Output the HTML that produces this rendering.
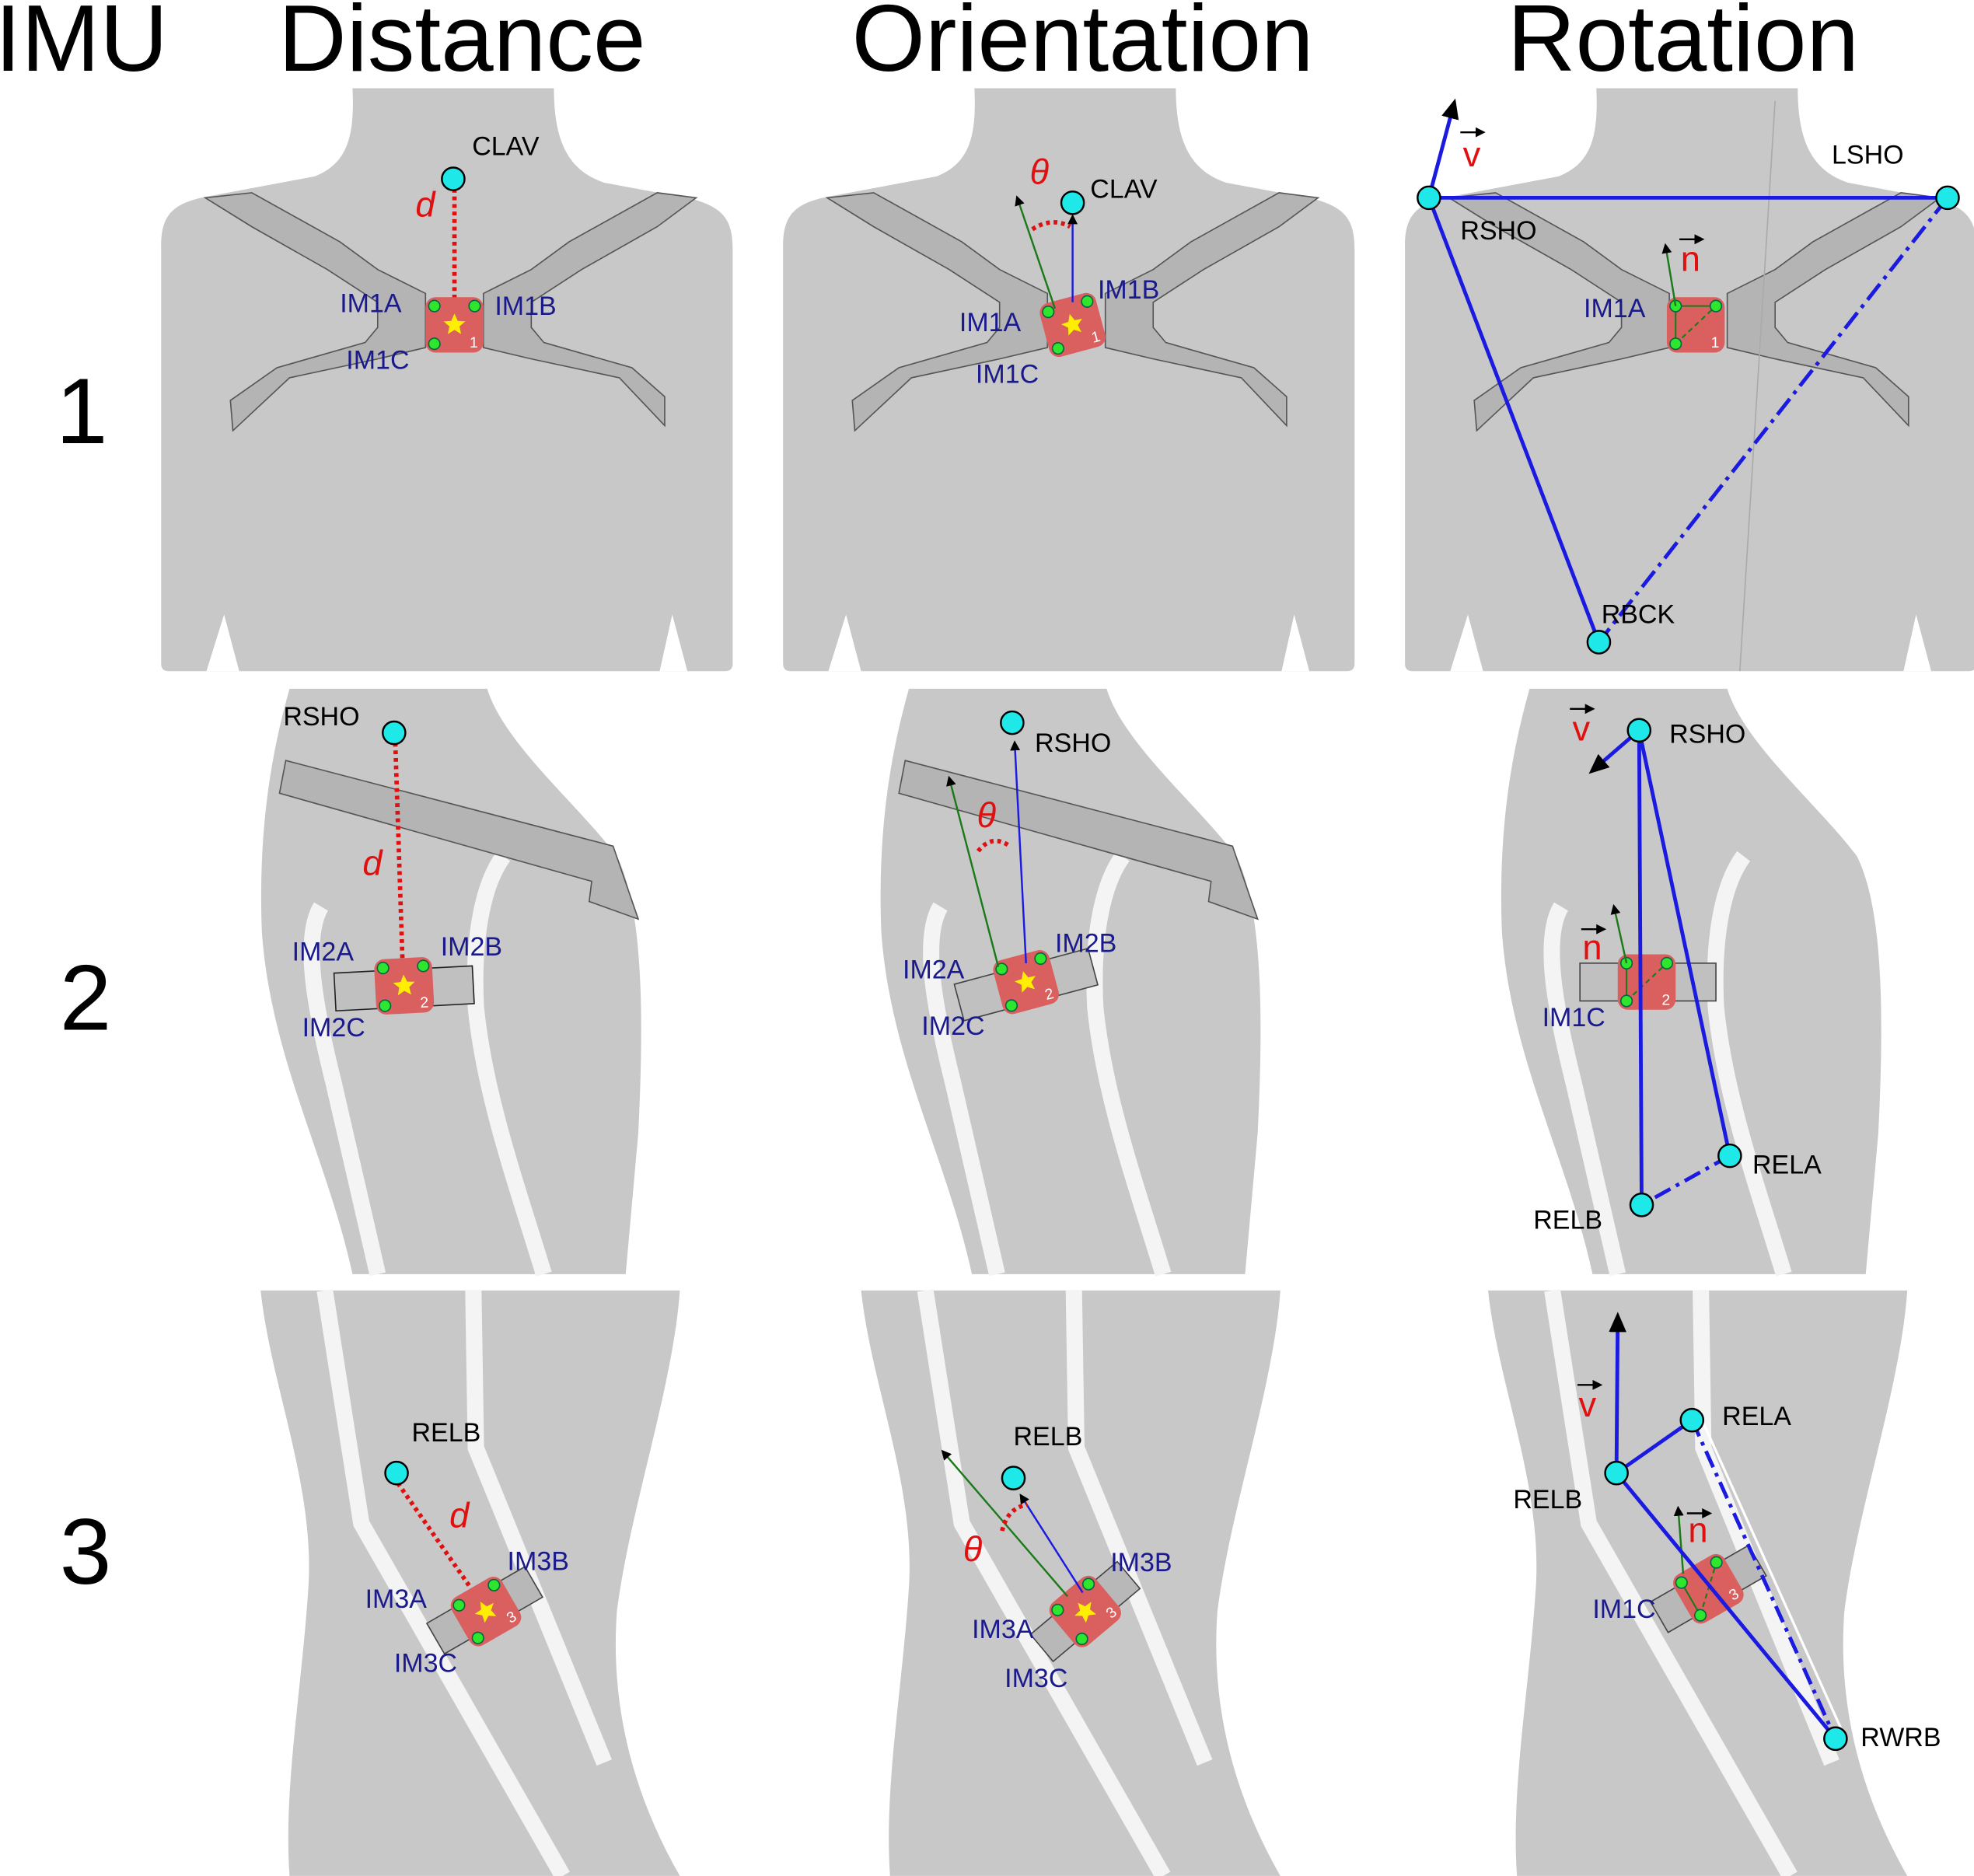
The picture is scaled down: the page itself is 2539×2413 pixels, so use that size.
<!DOCTYPE html>
<html><head><meta charset="utf-8"><style>
html,body{margin:0;padding:0;background:#fff;}
svg{display:block;}
text{font-family:"Liberation Sans",Arial,sans-serif;}
.lab{font-size:21px;fill:#000;}
.im{font-size:21px;fill:#1a1a8c;}
.hd{font-size:75px;fill:#000;}
.rn{font-size:74px;fill:#000;}
.red{fill:#e01010;font-style:italic;font-size:28px;}
</style></head><body>
<svg width="2539" height="2413" viewBox="0 0 1568 1490" xmlns="http://www.w3.org/2000/svg">
<defs>
<marker id="ak" markerWidth="8" markerHeight="8" refX="6" refY="4" orient="auto" markerUnits="userSpaceOnUse"><path d="M0,0 L8,4 L0,8 Z" fill="#000"/></marker>
<marker id="akb" markerWidth="16" markerHeight="14" refX="12" refY="7" orient="auto" markerUnits="userSpaceOnUse"><path d="M0,0 L16,7 L0,14 Z" fill="#000"/></marker>
<g id="torso1">
<path d="M128 195 C128 168 140 160 170 155 L250 140 C275 130 282 110 280 70 L440 70 C440 110 450 135 480 145 L550 158 C575 165 582 175 582 198 L582 527 Q582 533 576 533 L134 533 Q128 533 128 527 Z" fill="#c8c8c8"/>
<path d="M164 533 L178 488 L190 533 Z M524 533 L534 488 L546 533 Z" fill="#fff"/>
<path d="M163 157 L200 153 L270 192 L300 214 L338 233 L338 276 L300 285 L230 300 L185 342 L183 318 L220 292 L290 272 L300 260 L300 240 L260 214 L200 180 Z" fill="#b4b4b4" stroke="#555" stroke-width="1"/>
<path d="M553 157 L522 153 L452 192 L422 214 L384 233 L384 276 L422 285 L492 300 L528 338 L528 315 L502 292 L432 272 L422 260 L422 240 L462 214 L522 180 Z" fill="#b4b4b4" stroke="#555" stroke-width="1"/>
</g>
<g id="torso2">
<path d="M230 547 L387 547 C400 590 460 640 490 680 C510 720 512 800 507 900 L497 1012 L280 1012 C260 920 215 840 208 740 C205 660 215 600 230 547 Z" fill="#c8c8c8"/>
<path d="M255 720 C240 745 250 800 265 860 L300 1012" stroke="#f4f4f4" stroke-width="13" fill="none"/>
<path d="M400 680 C385 700 375 740 378 800 C385 870 410 940 432 1012" stroke="#f4f4f4" stroke-width="13" fill="none"/>
</g>
<g id="strap2">
<path d="M227 604 L487 672 L507 730 L468 716 L470 700 L222 630 Z" fill="#b4b4b4" stroke="#555" stroke-width="1"/>
</g>
<g id="torso3">
<path d="M207 1025 L540 1025 C535 1100 500 1200 490 1280 C485 1350 500 1420 540 1490 L230 1490 C225 1420 240 1340 245 1260 C250 1180 215 1100 207 1025 Z" fill="#c8c8c8"/>
<path d="M258 1025 L287 1210 L447 1490" stroke="#f4f4f4" stroke-width="13" fill="none"/>
<path d="M376 1025 L378 1150 L480 1400" stroke="#f4f4f4" stroke-width="13" fill="none"/>
</g>
<g id="sens">
<rect x="-23" y="-22" width="46" height="44" rx="8" fill="#d9605f"/>
</g>
<g id="dots">
<circle cx="-16" cy="-15" r="4.5" fill="#2ee62e" stroke="#064" stroke-width="1"/>
<circle cx="16" cy="-15" r="4.5" fill="#2ee62e" stroke="#064" stroke-width="1"/>
<circle cx="-16" cy="15" r="4.5" fill="#2ee62e" stroke="#064" stroke-width="1"/>
</g>
<polygon id="star" points="0,-9 2.6,-3.2 8.6,-2.8 4,1.2 5.3,7.3 0,4 -5.3,7.3 -4,1.2 -8.6,-2.8 -2.6,-3.2" fill="#ffee00"/>
</defs>

<text class="hd" x="-4" y="56">IMU</text>
<text class="hd" x="367" y="56" text-anchor="middle">Distance</text>
<text class="hd" x="860" y="56" text-anchor="middle">Orientation</text>
<text class="hd" x="1337" y="56" text-anchor="middle">Rotation</text>
<text class="rn" x="65" y="352" text-anchor="middle">1</text>
<text class="rn" x="68" y="818" text-anchor="middle">2</text>
<text class="rn" x="68" y="1258" text-anchor="middle">3</text>

<use href="#torso1"/>
<use href="#torso1" x="494"/>
<use href="#torso1" x="988"/>
<path d="M1410 80 C1400 250 1390 400 1382 533" stroke="#aaa" stroke-width="1" fill="none"/>

<line x1="361" y1="150" x2="361" y2="248" stroke="#e01010" stroke-width="3.5" stroke-dasharray="3,3"/>
<g transform="translate(361,258)"><use href="#sens"/><use href="#star"/><use href="#dots"/><text x="12" y="18" font-size="12" fill="#fff">1</text></g>
<circle cx="360" cy="142" r="9" fill="#1ee8e8" stroke="#000" stroke-width="1.5"/>
<text class="lab" x="375" y="123">CLAV</text>
<text class="red" x="330" y="172">d</text>
<text class="im" x="270" y="248">IM1A</text>
<text class="im" x="393" y="250">IM1B</text>
<text class="im" x="275" y="293">IM1C</text>

<g transform="translate(852,258) rotate(-15)"><use href="#sens"/><use href="#star"/><use href="#dots"/><text x="12" y="18" font-size="12" fill="#fff">1</text></g>
<line x1="838" y1="245" x2="808" y2="157" stroke="#1a7a1a" stroke-width="1.5" marker-end="url(#ak)"/>
<line x1="852" y1="240" x2="852" y2="172" stroke="#1a1ae0" stroke-width="1.5" marker-end="url(#ak)"/>
<path d="M820 182 Q836 172 850 180" stroke="#e01010" stroke-width="3.5" stroke-dasharray="3,3" fill="none"/>
<circle cx="852" cy="161" r="9" fill="#1ee8e8" stroke="#000" stroke-width="1.5"/>
<text class="lab" x="866" y="157">CLAV</text>
<text class="red" x="818" y="146">θ</text>
<text class="im" x="762" y="263">IM1A</text>
<text class="im" x="872" y="237">IM1B</text>
<text class="im" x="775" y="304">IM1C</text>

<g transform="translate(1347,258)"><use href="#sens"/><line x1="-16" y1="15" x2="16" y2="-15" stroke="#1a7a1a" stroke-width="1.3" stroke-dasharray="4,3"/><line x1="-16" y1="-15" x2="16" y2="-15" stroke="#1a7a1a" stroke-width="1.3"/><line x1="-16" y1="-15" x2="-16" y2="15" stroke="#1a7a1a" stroke-width="1.3"/><use href="#dots"/><text x="12" y="18" font-size="12" fill="#fff">1</text></g>
<line x1="1331" y1="243" x2="1323" y2="195" stroke="#1a7a1a" stroke-width="1.5" marker-end="url(#ak)"/>
<line x1="1135" y1="157" x2="1547" y2="157" stroke="#1a1ae0" stroke-width="3"/>
<line x1="1135" y1="157" x2="1270" y2="510" stroke="#1a1ae0" stroke-width="3"/>
<line x1="1547" y1="157" x2="1270" y2="510" stroke="#1a1ae0" stroke-width="3" stroke-dasharray="16,5,3,5"/>
<line x1="1135" y1="157" x2="1155" y2="82" stroke="#1a1ae0" stroke-width="3" marker-end="url(#akb)"/>
<circle cx="1135" cy="157" r="9" fill="#1ee8e8" stroke="#000" stroke-width="1.5"/>
<circle cx="1547" cy="157" r="9" fill="#1ee8e8" stroke="#000" stroke-width="1.5"/>
<circle cx="1270" cy="510" r="9" fill="#1ee8e8" stroke="#000" stroke-width="1.5"/>
<text class="lab" x="1160" y="190">RSHO</text>
<text class="lab" x="1455" y="130">LSHO</text>
<text class="lab" x="1272" y="495">RBCK</text>
<text x="1162" y="132" font-size="28" fill="#e01010">v</text><line x1="1160" y1="105" x2="1178" y2="105" stroke="#000" stroke-width="1.5" marker-end="url(#ak)"/>
<text x="1335" y="215" font-size="28" fill="#e01010">n</text><line x1="1334" y1="190" x2="1352" y2="190" stroke="#000" stroke-width="1.5" marker-end="url(#ak)"/>
<text class="im" x="1258" y="252">IM1A</text>

<use href="#torso2"/><use href="#strap2"/>
<use href="#torso2" x="492"/><use href="#strap2" x="492"/>
<use href="#torso2" x="985"/>

<rect x="266" y="770" width="110" height="30" fill="#c0c0c0" stroke="#222" stroke-width="1" transform="rotate(-3 321 785)"/>
<line x1="314" y1="590" x2="320" y2="772" stroke="#e01010" stroke-width="3.5" stroke-dasharray="3,3"/>
<g transform="translate(321,783) rotate(-3)"><use href="#sens"/><use href="#star"/><use href="#dots"/><text x="12" y="18" font-size="12" fill="#fff">2</text></g>
<circle cx="313" cy="582" r="9" fill="#1ee8e8" stroke="#000" stroke-width="1.5"/>
<text class="lab" x="225" y="576">RSHO</text>
<text class="red" x="288" y="695">d</text>
<text class="im" x="232" y="763">IM2A</text>
<text class="im" x="350" y="759">IM2B</text>
<text class="im" x="240" y="823">IM2C</text>

<rect x="760" y="767" width="110" height="30" fill="#c0c0c0" stroke="#444" stroke-width="1" transform="rotate(-15 815 782)"/>
<g transform="translate(815,780) rotate(-15)"><use href="#sens"/><use href="#star"/><use href="#dots"/><text x="12" y="18" font-size="12" fill="#fff">2</text></g>
<line x1="793" y1="768" x2="754" y2="618" stroke="#1a7a1a" stroke-width="1.5" marker-end="url(#ak)"/>
<line x1="815" y1="765" x2="806" y2="590" stroke="#1a1ae0" stroke-width="1.5" marker-end="url(#ak)"/>
<path d="M777 676 Q788 662 802 672" stroke="#e01010" stroke-width="3.5" stroke-dasharray="3,3" fill="none"/>
<circle cx="804" cy="574" r="9" fill="#1ee8e8" stroke="#000" stroke-width="1.5"/>
<text class="lab" x="822" y="597">RSHO</text>
<text class="red" x="776" y="657">θ</text>
<text class="im" x="717" y="777">IM2A</text>
<text class="im" x="838" y="756">IM2B</text>
<text class="im" x="732" y="822">IM2C</text>

<rect x="1255" y="765" width="108" height="30" fill="#c0c0c0" stroke="#444" stroke-width="1"/>
<g transform="translate(1308,780)"><use href="#sens"/><line x1="-16" y1="15" x2="16" y2="-15" stroke="#1a7a1a" stroke-width="1.3" stroke-dasharray="4,3"/><line x1="-16" y1="-15" x2="-16" y2="15" stroke="#1a7a1a" stroke-width="1.3"/><use href="#dots"/><text x="12" y="18" font-size="12" fill="#fff">2</text></g>
<line x1="1292" y1="765" x2="1282" y2="720" stroke="#1a7a1a" stroke-width="1.5" marker-end="url(#ak)"/>
<line x1="1302" y1="580" x2="1304" y2="957" stroke="#1a1ae0" stroke-width="3"/>
<line x1="1302" y1="580" x2="1374" y2="918" stroke="#1a1ae0" stroke-width="3"/>
<line x1="1374" y1="918" x2="1304" y2="957" stroke="#1a1ae0" stroke-width="3" stroke-dasharray="14,5,3,5"/>
<line x1="1302" y1="580" x2="1265" y2="612" stroke="#1a1ae0" stroke-width="3" marker-end="url(#akb)"/>
<circle cx="1302" cy="580" r="9" fill="#1ee8e8" stroke="#000" stroke-width="1.5"/>
<circle cx="1374" cy="918" r="9" fill="#1ee8e8" stroke="#000" stroke-width="1.5"/>
<circle cx="1304" cy="957" r="9" fill="#1ee8e8" stroke="#000" stroke-width="1.5"/>
<text class="lab" x="1326" y="590">RSHO</text>
<text class="lab" x="1392" y="932">RELA</text>
<text class="lab" x="1218" y="976">RELB</text>
<text x="1249" y="588" font-size="28" fill="#e01010">v</text><line x1="1247" y1="563" x2="1265" y2="563" stroke="#000" stroke-width="1.5" marker-end="url(#ak)"/>
<text x="1257" y="762" font-size="28" fill="#e01010">n</text><line x1="1256" y1="738" x2="1274" y2="738" stroke="#000" stroke-width="1.5" marker-end="url(#ak)"/>
<text class="im" x="1225" y="815">IM1C</text>

<use href="#torso3"/>
<use href="#torso3" x="477"/>
<use href="#torso3" x="975"/>

<rect x="340" y="1265" width="90" height="28" fill="#b8b8b8" stroke="#444" stroke-width="1" transform="rotate(-30 385 1279)"/>
<line x1="316" y1="1178" x2="380" y2="1270" stroke="#e01010" stroke-width="3.5" stroke-dasharray="3,3"/>
<g transform="translate(386,1280) rotate(-30)"><use href="#sens"/><use href="#star"/><use href="#dots"/><text x="12" y="18" font-size="12" fill="#fff">3</text></g>
<circle cx="315" cy="1170" r="9" fill="#1ee8e8" stroke="#000" stroke-width="1.5"/>
<text class="lab" x="327" y="1145">RELB</text>
<text class="red" x="357" y="1213">d</text>
<text class="im" x="290" y="1277">IM3A</text>
<text class="im" x="403" y="1247">IM3B</text>
<text class="im" x="313" y="1328">IM3C</text>

<rect x="817" y="1266" width="90" height="28" fill="#b8b8b8" stroke="#444" stroke-width="1" transform="rotate(-40 862 1280)"/>
<g transform="translate(862,1280) rotate(-40)"><use href="#sens"/><use href="#star"/><use href="#dots"/><text x="12" y="18" font-size="12" fill="#fff">3</text></g>
<line x1="848" y1="1268" x2="749" y2="1153" stroke="#1a7a1a" stroke-width="1.5" marker-end="url(#ak)"/>
<line x1="860" y1="1265" x2="811" y2="1188" stroke="#1a1ae0" stroke-width="1.5" marker-end="url(#ak)"/>
<path d="M796 1216 Q800 1198 816 1195" stroke="#e01010" stroke-width="3.5" stroke-dasharray="3,3" fill="none"/>
<circle cx="805" cy="1174" r="9" fill="#1ee8e8" stroke="#000" stroke-width="1.5"/>
<text class="lab" x="805" y="1148">RELB</text>
<text class="red" x="765" y="1240">θ</text>
<text class="im" x="772" y="1301">IM3A</text>
<text class="im" x="882" y="1248">IM3B</text>
<text class="im" x="798" y="1340">IM3C</text>

<rect x="1312" y="1248" width="90" height="28" fill="#b8b8b8" stroke="#444" stroke-width="1" transform="rotate(-30 1357 1262)"/>
<g transform="translate(1357,1262) rotate(-30)"><use href="#sens"/><line x1="-16" y1="15" x2="16" y2="-15" stroke="#1a7a1a" stroke-width="1.3" stroke-dasharray="4,3"/><line x1="-16" y1="-15" x2="-16" y2="15" stroke="#1a7a1a" stroke-width="1.3"/><use href="#dots"/><text x="12" y="18" font-size="12" fill="#fff">3</text></g>
<line x1="1337" y1="1250" x2="1333" y2="1198" stroke="#1a7a1a" stroke-width="1.5" marker-end="url(#ak)"/>
<line x1="1284" y1="1170" x2="1344" y2="1128" stroke="#1a1ae0" stroke-width="3"/>
<line x1="1284" y1="1170" x2="1458" y2="1381" stroke="#1a1ae0" stroke-width="3"/>
<line x1="1344" y1="1128" x2="1458" y2="1381" stroke="#1a1ae0" stroke-width="3" stroke-dasharray="14,5,3,5"/>
<line x1="1352" y1="1128" x2="1466" y2="1381" stroke="#fff" stroke-width="2"/>
<line x1="1284" y1="1170" x2="1285" y2="1046" stroke="#1a1ae0" stroke-width="3" marker-end="url(#akb)"/>
<circle cx="1284" cy="1170" r="9" fill="#1ee8e8" stroke="#000" stroke-width="1.5"/>
<circle cx="1344" cy="1128" r="9" fill="#1ee8e8" stroke="#000" stroke-width="1.5"/>
<circle cx="1458" cy="1381" r="9" fill="#1ee8e8" stroke="#000" stroke-width="1.5"/>
<text class="lab" x="1368" y="1132">RELA</text>
<text class="lab" x="1202" y="1198">RELB</text>
<text class="lab" x="1478" y="1387">RWRB</text>
<text x="1254" y="1125" font-size="28" fill="#e01010">v</text><line x1="1253" y1="1100" x2="1271" y2="1100" stroke="#000" stroke-width="1.5" marker-end="url(#ak)"/>
<text x="1341" y="1225" font-size="28" fill="#e01010">n</text><line x1="1340" y1="1202" x2="1358" y2="1202" stroke="#000" stroke-width="1.5" marker-end="url(#ak)"/>
<text class="im" x="1265" y="1285">IM1C</text>
</svg>
</body></html>
